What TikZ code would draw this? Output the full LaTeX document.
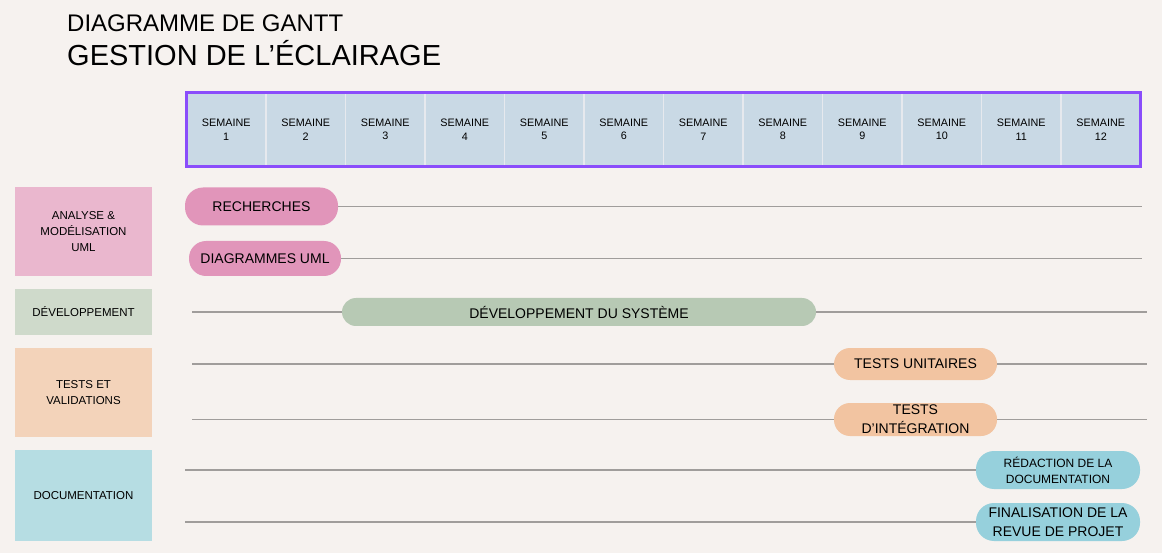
\documentclass[tikz,border=0pt]{standalone}
\usepackage{fontspec}
\setmainfont{Liberation Sans}

\definecolor{fond}{HTML}{F6F2EF}
\definecolor{entete}{HTML}{C9D9E5}
\definecolor{cadre}{HTML}{8A4DFB}
\definecolor{separ}{HTML}{E6E9EE}
\definecolor{trait}{HTML}{A09D9B}
\definecolor{roseclair}{HTML}{EAB7CE}
\definecolor{rose}{HTML}{E195BA}
\definecolor{vertclair}{HTML}{CFDACB}
\definecolor{vert}{HTML}{B7C9B4}
\definecolor{orangeclair}{HTML}{F3D3BA}
\definecolor{orange}{HTML}{F2C4A1}
\definecolor{bleuclair}{HTML}{B6DDE3}
\definecolor{bleu}{HTML}{96D0DC}

\tikzset{
  categorie/.style={inner sep=0pt, minimum width=137pt, align=center,
    font=\fontsize{11.5}{16}\selectfont},
  tache/.style={inner sep=0pt, rounded corners=16pt, align=center,
    font=\fontsize{14}{19}\selectfont},
  semaine/.style={inner sep=0pt, minimum width=79.5pt, minimum height=74pt,
    align=center, font=\fontsize{10.8}{13.5}\selectfont},
  ligne/.style={draw=trait, line width=1.5pt},
}

\begin{document}
\begin{tikzpicture}[x=1pt,y=-1pt]
  \useasboundingbox (0,0) rectangle (1162,553);
  \fill[fond] (0,0) rectangle (1162,553);

  \node[anchor=base west, inner sep=0pt, font=\fontsize{24}{28}\selectfont] (titre) at (67,32) {DIAGRAMME DE GANTT};
  \node[anchor=base west, inner sep=0pt, font=\fontsize{29}{34}\selectfont] (soustitre) at (67,66) {GESTION DE L’ÉCLAIRAGE};

  % semaines
  \node[fill=entete, minimum width=954pt, minimum height=74pt, inner sep=0pt] (entete) at (663.5,129.5) {};
  \foreach \i in {1,...,12}
    \node[semaine] (s\i) at ({186.5+79.5*(\i-0.5)},129.5) {SEMAINE\\\i};
  \foreach \i in {1,...,11}
    \draw[separ, line width=1.5pt] (s\i.north east) -- (s\i.south east);
  \draw[cadre, line width=3pt] (entete.south west) rectangle (entete.north east);

  % categories
  \node[categorie, fill=roseclair, minimum height=89pt] (analyse) at (83.5,231.5) {ANALYSE \&\\MODÉLISATION\\UML};
  \node[categorie, fill=vertclair, minimum height=46pt] (developpement) at (83.5,312) {DÉVELOPPEMENT};
  \node[categorie, fill=orangeclair, minimum height=89pt] (tests) at (83.5,392.5) {TESTS ET\\VALIDATIONS};
  \node[categorie, fill=bleuclair, minimum height=91pt] (documentation) at (83.5,495.5) {DOCUMENTATION};

  % taches
  \node[tache, fill=rose, minimum width=153pt, minimum height=38pt, rounded corners=18pt] (recherches) at (261.5,206.5) {RECHERCHES};
  \node[tache, fill=rose, minimum width=152pt, minimum height=35pt, rounded corners=17pt] (diagrammes) at (265,258.5) {DIAGRAMMES UML};
  \node[tache, fill=vert, minimum width=474pt, minimum height=28pt, rounded corners=14pt] (systeme) at (579,312) {DÉVELOPPEMENT DU SYSTÈME};
  \node[tache, fill=orange, minimum width=163pt, minimum height=32pt] (unitaires) at (915.5,364) {TESTS UNITAIRES};
  \node[tache, fill=orange, minimum width=163pt, minimum height=33pt] (integration) at (915.5,419.5) {TESTS\\D’INTÉGRATION};
  \node[tache, fill=bleu, minimum width=164pt, minimum height=38pt, rounded corners=18pt,
    font=\fontsize{12}{16}\selectfont] (redaction) at (1058,470) {RÉDACTION DE LA\\DOCUMENTATION};
  \node[tache, fill=bleu, minimum width=164pt, minimum height=38pt, rounded corners=18pt] (finalisation) at (1058,522) {FINALISATION DE LA\\REVUE DE PROJET};

  \coordinate (g1) at (192,0);
  \coordinate (g2) at (185,0);
  \coordinate (d1) at (1142,0);
  \coordinate (d2) at (1147,0);

  \draw[ligne] (recherches.east) -- (recherches.east -| d1);
  \draw[ligne] (diagrammes.east) -- (diagrammes.east -| d1);
  \draw[ligne] (systeme.west -| g1) -- (systeme.west);
  \draw[ligne] (systeme.east) -- (systeme.east -| d2);
  \draw[ligne] (unitaires.west -| g1) -- (unitaires.west);
  \draw[ligne] (unitaires.east) -- (unitaires.east -| d2);
  \draw[ligne] (integration.west -| g1) -- (integration.west);
  \draw[ligne] (integration.east) -- (integration.east -| d2);
  \draw[ligne] (redaction.west -| g2) -- (redaction.west);
  \draw[ligne] (finalisation.west -| g2) -- (finalisation.west);
\end{tikzpicture}
\end{document}
